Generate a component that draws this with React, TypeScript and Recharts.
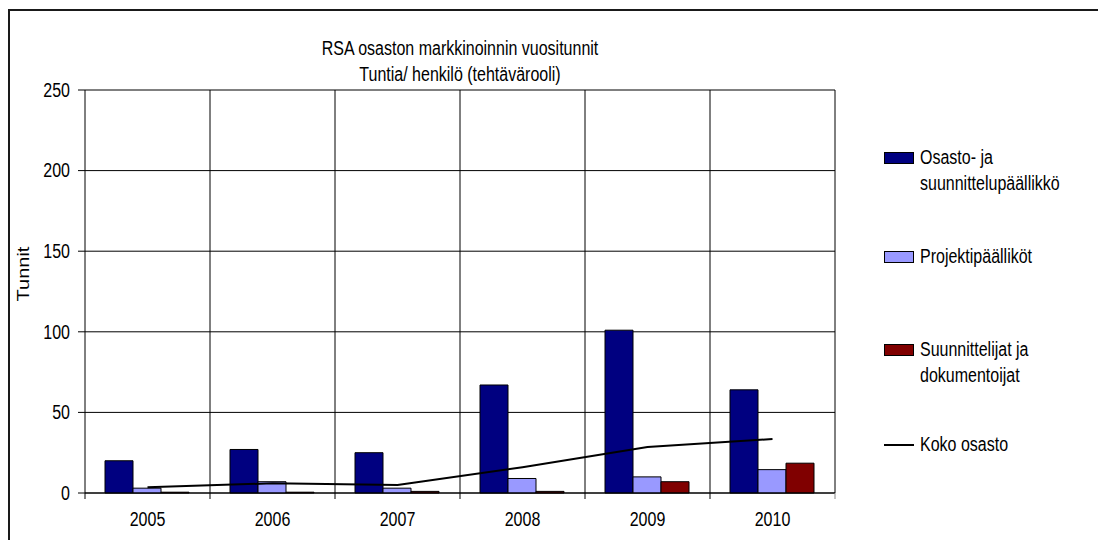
import React from 'react';
import { ComposedChart, Bar, Line, XAxis, YAxis, CartesianGrid } from 'recharts';

const years = ['2005', '2006', '2007', '2008', '2009', '2010'];
const managers = [20, 27, 25, 67, 101, 64];
const projectManagers = [3, 7, 3, 9, 10, 14.5];
const designers = [0.5, 0.5, 1, 1, 7, 18.5];
const wholeDept = [3.5, 6, 5, 16, 28.5, 33.5];
const yTicks = [0, 50, 100, 150, 200, 250];

const legendItems = [
  { label: ['Osasto- ja', 'suunnittelupäällikkö'], color: '#000080', kind: 'box', top: 144 },
  { label: ['Projektipäälliköt'], color: '#9999ff', kind: 'box', top: 243 },
  { label: ['Suunnittelijat ja', 'dokumentoijat'], color: '#800000', kind: 'box', top: 336 },
  { label: ['Koko osasto'], color: '#000000', kind: 'line', top: 431 },
];

const data = years.map((y, i) => ({
  year: y,
  managers: managers[i],
  projectManagers: projectManagers[i],
  designers: designers[i],
  wholeDept: wholeDept[i],
}));

const W = 1098;
const H = 540;
const margin = { top: 90, right: 263, bottom: 17, left: 25 };
const plotWidth = W - margin.left - 60 - margin.right;
const band = plotWidth / years.length;
const font = '"Liberation Sans", Arial, sans-serif';
const stretch = 'scaleY(1.25)';

const YearTick = (props: any) => {
  const { x, y, payload, index } = props;
  const axisY = y - 8;
  return (
    <g>
      <line x1={x - band / 2} y1={axisY} x2={x - band / 2} y2={axisY + 6} stroke="#000" />
      {index === years.length - 1 && (
        <line x1={x + band / 2} y1={axisY} x2={x + band / 2} y2={axisY + 6} stroke="#888" />
      )}
      <g transform={`translate(${x}, ${y + 19}) scale(1, 1.25)`}>
        <text x={0} y={0} dy={5} textAnchor="middle" fontSize={16} fill="#000" fontFamily={font}>
          {payload.value}
        </text>
      </g>
    </g>
  );
};

const ValueTick = (props: any) => {
  const { x, y, payload } = props;
  return (
    <g transform={`translate(${x}, ${y}) scale(1, 1.25)`}>
      <text x={0} y={0} dy={5.5} textAnchor="end" fontSize={16} fill="#000" fontFamily={font}>
        {payload.value}
      </text>
    </g>
  );
};

export default function App() {
  return (
    <div style={{ position: 'fixed', left: 0, top: 0, width: W, height: H, overflow: 'hidden', background: '#fff', fontFamily: font }}>
      <div style={{ position: 'absolute', left: 8, top: 9, width: 1200, height: 800, border: '2px solid #1a1a1a' }} />
      <div style={{ position: 'absolute', left: 260, width: 400, top: 32, textAlign: 'center', fontSize: 16, lineHeight: '26px', color: '#000', transform: stretch, transformOrigin: 'center top' }}>
        <div>RSA osaston markkinoinnin vuositunnit</div>
        <div style={{ marginTop: -5 }}>Tuntia/ henkilö (tehtävärooli)</div>
      </div>
      <div style={{ position: 'absolute', left: 24, top: 274, fontSize: 16, color: '#000', transform: 'translate(-50%, -50%) rotate(-90deg) scaleX(1.25)', whiteSpace: 'nowrap' }}>
        Tunnit
      </div>
      <div style={{ position: 'absolute', left: 0, top: 0 }}>
        <ComposedChart width={W} height={H} data={data} margin={margin} barCategoryGap="16%" barGap={0}>
          <CartesianGrid
            stroke="#000"
            horizontal
            vertical
            verticalCoordinatesGenerator={(p: any) => {
              const left = p?.offset?.left ?? 85;
              const w = p?.offset?.width ?? plotWidth;
              return years.map((_, i) => left + (w / years.length) * (i + 1));
            }}
          />
          <XAxis dataKey="year" axisLine={{ stroke: '#000' }} tickLine={false} tick={<YearTick />} height={30} interval={0} />
          <YAxis
            domain={[0, 250]}
            ticks={yTicks}
            width={60}
            tickSize={7}
            tickMargin={8}
            axisLine={{ stroke: '#000' }}
            tickLine={{ stroke: '#000' }}
            tick={<ValueTick />}
          />
          <Bar dataKey="managers" fill="#000080" stroke="#000" strokeWidth={1} isAnimationActive={false} />
          <Bar dataKey="projectManagers" fill="#9999ff" stroke="#000" strokeWidth={1} isAnimationActive={false} />
          <Bar dataKey="designers" fill="#800000" stroke="#000" strokeWidth={1} isAnimationActive={false} />
          <Line dataKey="wholeDept" stroke="#000" strokeWidth={2} dot={false} activeDot={false} isAnimationActive={false} />
        </ComposedChart>
      </div>
      {legendItems.map((it) => (
        <div key={it.label[0]} style={{ position: 'absolute', left: 884, top: it.top, display: 'flex', alignItems: 'flex-start' }}>
          {it.kind === 'box' ? (
            <div style={{ width: 28, height: 10, marginTop: 8, background: it.color, border: '1px solid #000', flexShrink: 0 }} />
          ) : (
            <div style={{ width: 30, height: 2, marginTop: 13, background: it.color, flexShrink: 0 }} />
          )}
          <div style={{ marginLeft: 6, fontSize: 16, color: '#000', transform: stretch, transformOrigin: 'left top' }}>
            {it.label.map((l) => (
              <div key={l} style={{ lineHeight: '21px' }}>{l}</div>
            ))}
          </div>
        </div>
      ))}
    </div>
  );
}
